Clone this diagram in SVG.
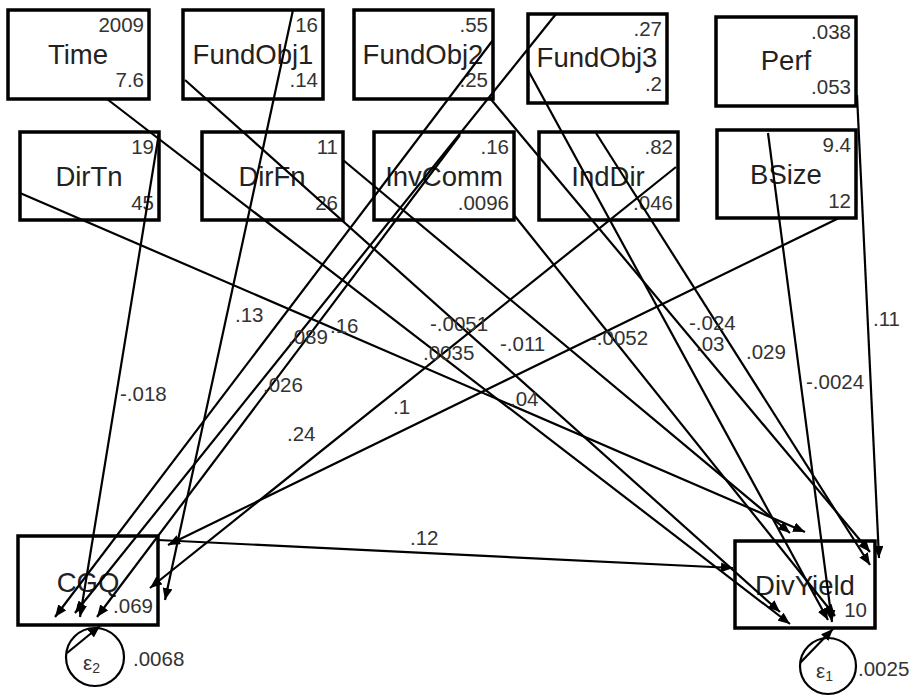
<svg xmlns="http://www.w3.org/2000/svg" width="916" height="696" viewBox="0 0 916 696">
<defs>
<marker id="ah" viewBox="0 0 12 10" refX="12" refY="5" markerWidth="12" markerHeight="10" markerUnits="userSpaceOnUse" orient="auto">
<path d="M0,0 L12,5 L0,10 z" fill="#000"/>
</marker>
<style>
.box{fill:#fff;stroke:#000;stroke-width:3.5}
.lab{font-family:"Liberation Sans",Arial,sans-serif;font-size:27.5px;fill:#222;text-anchor:middle}
.num{font-family:"Liberation Sans",Arial,sans-serif;font-size:20.5px;fill:#333;text-anchor:end}
.el{font-family:"Liberation Sans",Arial,sans-serif;font-size:20.5px;fill:#333}
.cn line{stroke:#000;stroke-width:2.2;marker-end:url(#ah)}
.err{fill:#fff;stroke:#000;stroke-width:2.2}
</style>
</defs>
<rect width="916" height="696" fill="#fff"/>
<g id="n-time"><rect class="box" x="8" y="10" width="141" height="89"/><text class="lab" x="78" y="64">Time</text><text class="num" x="144" y="32">2009</text><text class="num" x="144" y="87">7.6</text></g>
<g id="n-fundobj1"><rect class="box" x="183" y="10" width="140" height="89"/><text class="lab" x="253" y="64">FundObj1</text><text class="num" x="318" y="32">16</text><text class="num" x="318" y="87">.14</text></g>
<g id="n-fundobj2"><rect class="box" x="354" y="10" width="139" height="89"/><text class="lab" x="423" y="64">FundObj2</text><text class="num" x="488" y="32">.55</text><text class="num" x="488" y="87">.25</text></g>
<g id="n-fundobj3"><rect class="box" x="528" y="14" width="139" height="89"/><text class="lab" x="597" y="67">FundObj3</text><text class="num" x="662" y="36">.27</text><text class="num" x="662" y="91">.2</text></g>
<g id="n-perf"><rect class="box" x="716" y="17" width="140" height="89"/><text class="lab" x="786" y="70">Perf</text><text class="num" x="851" y="39">.038</text><text class="num" x="851" y="94">.053</text></g>
<g id="n-dirtn"><rect class="box" x="20" y="132" width="139" height="88"/><text class="lab" x="89" y="186">DirTn</text><text class="num" x="154" y="154">19</text><text class="num" x="154" y="210">45</text></g>
<g id="n-dirfn"><rect class="box" x="202" y="132" width="141" height="88"/><text class="lab" x="272" y="186">DirFn</text><text class="num" x="338" y="154">11</text><text class="num" x="338" y="210">26</text></g>
<g id="n-invcomm"><rect class="box" x="374" y="132" width="140" height="88"/><text class="lab" x="444" y="186">InvComm</text><text class="num" x="509" y="154">.16</text><text class="num" x="509" y="210">.0096</text></g>
<g id="n-inddir"><rect class="box" x="539" y="132" width="139" height="88"/><text class="lab" x="608" y="186">IndDir</text><text class="num" x="673" y="154">.82</text><text class="num" x="673" y="210">.046</text></g>
<g id="n-bsize"><rect class="box" x="717" y="130" width="139" height="88"/><text class="lab" x="786" y="184">BSize</text><text class="num" x="851" y="152">9.4</text><text class="num" x="851" y="208">12</text></g>
<g id="n-cgq"><rect class="box" x="18" y="536" width="140" height="89"/><text class="lab" x="88" y="592">CGQ</text><text class="num" x="153" y="613">.069</text></g>
<g id="n-divyield"><rect class="box" x="735" y="541" width="140" height="87"/><text class="lab" x="805" y="595">DivYield</text><text class="num" x="867" y="617">10</text></g>
<g id="n-e2"><circle class="err" cx="95" cy="657" r="29"/><text class="el" x="83" y="670">ε<tspan font-size="14" dy="3">2</tspan></text><text class="el" x="133" y="666">.0068</text></g>
<g id="n-e1"><circle class="err" cx="828" cy="666" r="28"/><text class="el" x="816" y="678">ε<tspan font-size="14" dy="3">1</tspan></text><text class="el" x="858" y="676">.0025</text></g>
<g id="connectors" class="cn">
<line x1="159" y1="133" x2="80" y2="617"/>
<line x1="293" y1="10" x2="165" y2="600"/>
<line x1="493" y1="40" x2="55" y2="617"/>
<line x1="556" y1="14" x2="75" y2="613"/>
<line x1="460" y1="135" x2="97" y2="617"/>
<line x1="676" y1="167" x2="150" y2="588"/>
<line x1="839" y1="218" x2="168" y2="545"/>
<line x1="158" y1="540" x2="733" y2="568"/>
<line x1="107" y1="99" x2="790" y2="624"/>
<line x1="185" y1="80" x2="780" y2="612"/>
<line x1="20" y1="193" x2="805" y2="532"/>
<line x1="343" y1="160" x2="790" y2="533"/>
<line x1="857" y1="95" x2="879" y2="558"/>
<line x1="768" y1="133" x2="832" y2="622"/>
<line x1="489" y1="97" x2="870" y2="552"/>
<line x1="528" y1="70" x2="828" y2="620"/>
<line x1="596" y1="133" x2="870" y2="565"/>
<line x1="514" y1="215" x2="835" y2="616"/>
<line x1="67" y1="653" x2="100" y2="626"/>
<line x1="800" y1="663" x2="833" y2="629"/>
</g>
<g id="edge-labels" class="el">
<text x="120" y="401">-.018</text>
<text x="235" y="322">.13</text>
<text x="288" y="344">.089</text>
<text x="330" y="333">.16</text>
<text x="263" y="392">.026</text>
<text x="287" y="441">.24</text>
<text x="393" y="414">.1</text>
<text x="430" y="331">-.0051</text>
<text x="423" y="360">.0035</text>
<text x="500" y="351">-.011</text>
<text x="590" y="345">-.0052</text>
<text x="510" y="406">.04</text>
<text x="689" y="330">-.024</text>
<text x="696" y="351">.03</text>
<text x="746" y="359">.029</text>
<text x="806" y="389">-.0024</text>
<text x="873" y="326">.11</text>
<text x="410" y="545">.12</text>
</g>
</svg>
